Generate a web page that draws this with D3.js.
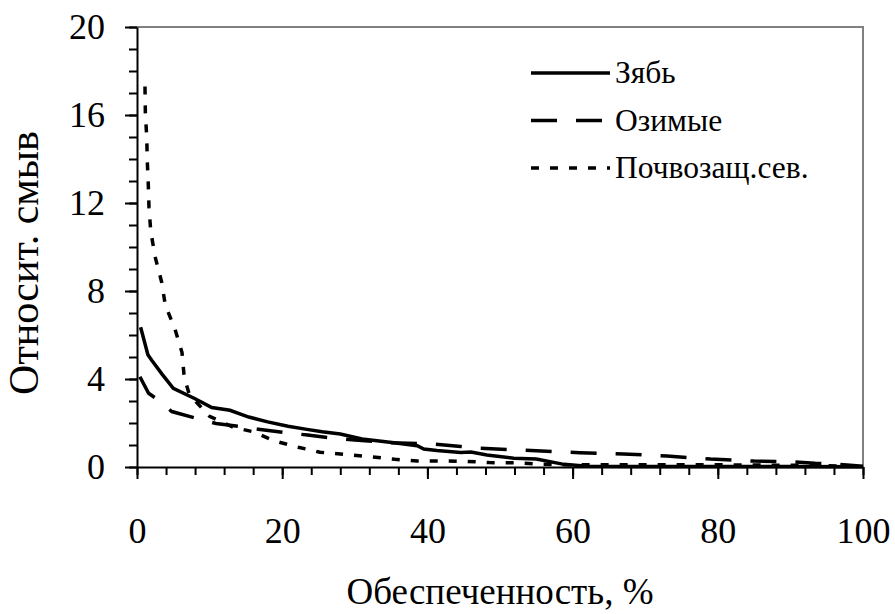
<!DOCTYPE html>
<html>
<head>
<meta charset="utf-8">
<script src="https://cdn.jsdelivr.net/npm/d3@7"></script>
<style>
  body { margin: 0; background: #fff; }
</style>
</head>
<body>
<div id="chart"></div>
<script>
// Зябь
const zyabX = [0.5, 1.5, 2.0, 3.5, 5.0, 8.0, 10.3, 12.8, 15.4, 18, 20.8, 23.4, 25.5, 28, 31, 35.4, 38.6, 39.5, 41.3, 44.6, 46, 48.2, 51.9, 55, 58.8, 62, 70, 80, 90, 100];
const zyabY = [6.35, 5.1, 4.86, 4.2, 3.58, 3.1, 2.7, 2.58, 2.27, 2.05, 1.85, 1.71, 1.6, 1.5, 1.27, 1.1, 0.97, 0.82, 0.75, 0.66, 0.68, 0.55, 0.4, 0.36, 0.12, 0.03, 0.02, 0.02, 0.02, 0.01];
// Озимые
const ozimX = [0.4, 1.6, 2.7, 4.8, 8.5, 10.9, 14.4, 16.7, 20.6, 23.5, 26.6, 30, 35, 38.6, 41, 44.6, 47.3, 51, 55, 61, 67, 73, 79, 85, 90, 93.4, 96.5, 100];
const ozimY = [4.1, 3.35, 3.1, 2.52, 2.18, 1.98, 1.83, 1.72, 1.56, 1.45, 1.33, 1.23, 1.1, 1.07, 1.04, 0.93, 0.85, 0.8, 0.74, 0.65, 0.59, 0.5, 0.36, 0.27, 0.24, 0.17, 0.13, 0.03];
// Почвозащ.сев.
const pochX = [1.1, 1.15, 1.34, 1.42, 1.56, 1.65, 1.9, 2.5, 3.4, 3.9, 5.2, 6.2, 6.5, 7.2, 10, 13.3, 16, 19, 22.2, 25.2, 28.7, 32, 35.5, 38.6, 42, 45.2, 48.5, 52, 56, 60, 70, 80, 90, 100];
const pochY = [17.3, 16.1, 15.0, 13.9, 12.8, 11.8, 10.7, 9.55, 8.4, 7.35, 6.3, 5.2, 4.1, 3.3, 2.3, 1.8, 1.6, 1.18, 0.9, 0.67, 0.57, 0.47, 0.35, 0.27, 0.27, 0.26, 0.2, 0.19, 0.12, 0.1, 0.1, 0.1, 0.08, 0.03];

const xTicks = [0, 20, 40, 60, 80, 100];
const yTicks = [0, 4, 8, 12, 16, 20];
const xTitle = "Обеспеченность, %";
const yTitle = "Относит. смыв";

const series = [
  { name: "Зябь", xs: zyabX, ys: zyabY, dash: null },
  { name: "Озимые", xs: ozimX, ys: ozimY, dash: "26,19" },
  { name: "Почвозащ.сев.", xs: pochX, ys: pochY, dash: "8,11" }
];

const FONT = "'Liberation Serif', 'Times New Roman', serif";
const W = 895, H = 614;
const margin = { top: 27, right: 32, bottom: 147, left: 137 };
const width = W - margin.left - margin.right;
const height = H - margin.top - margin.bottom;

const svg = d3.select("#chart").append("svg")
  .attr("width", W)
  .attr("height", H);

const g = svg.append("g")
  .attr("transform", `translate(${margin.left},${margin.top})`);

const x = d3.scaleLinear().domain([0, 100]).range([0, width]);
const y = d3.scaleLinear().domain([0, 20]).range([height, 0]);

// рамка сверху и справа (серая)
g.append("path")
  .attr("d", `M0,0H${width}V${height}`)
  .attr("fill", "none")
  .attr("stroke", "#808080")
  .attr("stroke-width", 2);

// мелкие деления
g.append("g")
  .attr("transform", `translate(0,${height})`)
  .call(d3.axisBottom(x).tickValues(d3.range(0, 101, 4)).tickSize(8).tickFormat(""))
  .call(a => a.select(".domain").remove())
  .selectAll("line").attr("stroke-width", 2);

g.append("g")
  .call(d3.axisLeft(y).tickValues(d3.range(0, 21, 1)).tickSize(8).tickFormat(""))
  .call(a => a.select(".domain").remove())
  .selectAll("line").attr("stroke-width", 2);

// основные деления
const xAxis = g.append("g")
  .attr("transform", `translate(0,${height})`)
  .call(d3.axisBottom(x).tickValues(xTicks).tickSize(12).tickSizeOuter(0).tickPadding(38));
xAxis.select(".domain").attr("stroke-width", 2);
xAxis.selectAll("line").attr("stroke-width", 2);
xAxis.selectAll("text").style("font-size", "36px").style("font-family", FONT);

const yAxis = g.append("g")
  .call(d3.axisLeft(y).tickValues(yTicks).tickSize(12).tickSizeOuter(0).tickPadding(20));
yAxis.select(".domain").attr("stroke-width", 2);
yAxis.selectAll("line").attr("stroke-width", 2);
yAxis.selectAll("text").style("font-size", "36px").style("font-family", FONT);

const line = d3.line()
  .x(d => x(d[0]))
  .y(d => y(d[1]));

series.forEach(s => {
  const pts = s.xs.map((v, i) => [v, s.ys[i]]);
  g.append("path")
    .datum(pts)
    .attr("fill", "none")
    .attr("stroke", "#000")
    .attr("stroke-width", 3.5)
    .attr("stroke-dasharray", s.dash)
    .attr("d", line);
});

// легенда
const legend = svg.append("g").attr("transform", "translate(531,73)");
series.forEach((s, i) => {
  const row = legend.append("g").attr("transform", `translate(0,${i * 47.5})`);
  row.append("line")
    .attr("x1", 0).attr("x2", 79)
    .attr("stroke", "#000")
    .attr("stroke-width", 3.5)
    .attr("stroke-dasharray", s.dash);
  row.append("text")
    .attr("x", 84)
    .attr("y", 10)
    .style("font-size", "31.5px")
    .style("font-family", FONT)
    .text(s.name);
});

// подписи осей
svg.append("text")
  .attr("x", margin.left + width / 2)
  .attr("y", 604)
  .attr("text-anchor", "middle")
  .style("font-size", "37px")
  .style("font-family", FONT)
  .text(xTitle);

svg.append("text")
  .attr("transform", `translate(38,263) rotate(-90)`)
  .attr("text-anchor", "middle")
  .style("font-size", "42px")
  .style("font-family", FONT)
  .text(yTitle);
</script>
</body>
</html>
